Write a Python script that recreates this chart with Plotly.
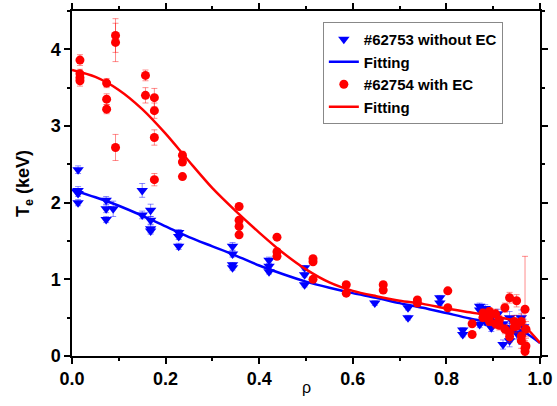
import plotly.graph_objects as go

# ---- data: #62753 without EC (blue) ----
blue_x = [0.013, 0.013, 0.013, 0.013, 0.073, 0.073, 0.073, 0.088, 0.150, 0.150,
          0.168, 0.168, 0.168, 0.168, 0.228, 0.228, 0.228, 0.343, 0.343, 0.343, 0.343,
          0.421, 0.421, 0.421, 0.497, 0.497, 0.497, 0.647, 0.718, 0.718, 0.786, 0.786,
          0.835, 0.835, 0.871, 0.871, 0.871, 0.883, 0.883, 0.896, 0.896, 0.91, 0.91,
          0.921, 0.921, 0.935, 0.935, 0.935, 0.95, 0.95, 0.96, 0.96, 0.965]
blue_y = [2.43, 2.16, 2.12, 2.00, 2.03, 1.92, 1.78, 1.92, 2.16, 1.84,
          1.90, 1.77, 1.66, 1.63, 1.61, 1.56, 1.43, 1.43, 1.33, 1.19, 1.15,
          1.25, 1.17, 1.10, 1.15, 1.06, 0.93, 0.69, 0.63, 0.50, 0.76, 0.69,
          0.34, 0.28, 0.65, 0.60, 0.41, 0.62, 0.45, 0.37, 0.50, 0.45, 0.55,
          0.15, 0.42, 0.50, 0.35, 0.20, 0.45, 0.30, 0.25, 0.50, 0.38]
blue_err = [0.05, 0.05, 0.04, 0.04, 0.05, 0.05, 0.04, 0.10, 0.09, 0.05,
            0.08, 0.05, 0.05, 0.04, 0.04, 0.04, 0.04, 0.05, 0.04, 0.03, 0.03,
            0.04, 0.03, 0.03, 0.03, 0.03, 0.03, 0.03, 0.03, 0.03, 0.03, 0.03,
            0.03, 0.03, 0.04, 0.04, 0.04, 0.05, 0.05, 0.05, 0.05, 0.06, 0.06,
            0.06, 0.06, 0.08, 0.08, 0.08, 0.08, 0.08, 0.10, 0.10, 0.10]

# ---- data: #62754 with EC (red) ----
red_x = [0.017, 0.017, 0.017, 0.017, 0.074, 0.074, 0.074, 0.093, 0.093, 0.093,
         0.157, 0.157, 0.176, 0.176, 0.176, 0.176, 0.236, 0.236, 0.236,
         0.357, 0.357, 0.357, 0.357, 0.438, 0.438, 0.438, 0.515, 0.515, 0.515,
         0.586, 0.586, 0.665, 0.665, 0.738, 0.738, 0.803, 0.803, 0.855, 0.855,
         0.878, 0.878, 0.892, 0.892, 0.892, 0.905, 0.905, 0.913, 0.913, 0.925, 0.925,
         0.935, 0.935, 0.935, 0.945, 0.945, 0.95, 0.95, 0.96, 0.96, 0.96,
         0.968, 0.968, 0.968, 0.97, 0.97]
red_y = [3.86, 3.68, 3.63, 3.59, 3.56, 3.35, 3.22, 4.18, 4.09, 2.72,
         3.66, 3.40, 3.37, 3.20, 2.85, 2.30, 2.62, 2.53, 2.34,
         1.95, 1.77, 1.69, 1.58, 1.55, 1.36, 1.30, 1.27, 1.23, 1.00,
         0.93, 0.82, 0.93, 0.86, 0.73, 0.69, 0.85, 0.63, 0.42, 0.28,
         0.56, 0.50, 0.58, 0.52, 0.45, 0.55, 0.42, 0.47, 0.40, 0.63, 0.35,
         0.76, 0.30, 0.25, 0.45, 0.38, 0.72, 0.39, 0.26, 0.45, 0.20,
         0.61, 0.10, 0.06, 0.13, 0.35]
red_err = [0.07, 0.06, 0.06, 0.07, 0.06, 0.07, 0.06, 0.22, 0.25, 0.17,
           0.07, 0.10, 0.12, 0.10, 0.10, 0.08, 0.05, 0.04, 0.03,
           0.03, 0.03, 0.03, 0.03, 0.03, 0.03, 0.03, 0.03, 0.03, 0.03,
           0.03, 0.03, 0.03, 0.03, 0.03, 0.03, 0.03, 0.03, 0.03, 0.03,
           0.05, 0.05, 0.05, 0.05, 0.05, 0.06, 0.06, 0.06, 0.06, 0.06, 0.06,
           0.07, 0.07, 0.07, 0.08, 0.08, 0.08, 0.08, 0.10, 0.10, 0.10,
           0.69, 0.10, 0.10, 0.10, 0.10]

# ---- fitted profiles ----
fit_x = [0, 0.05, 0.1, 0.15, 0.2, 0.25, 0.3, 0.35, 0.4, 0.45, 0.5, 0.55,
         0.6, 0.65, 0.7, 0.75, 0.8, 0.85, 0.9, 0.95, 0.97, 1.0]
blue_fit = [2.17, 2.07, 1.96, 1.83, 1.69, 1.55, 1.43, 1.31, 1.18, 1.07, 0.97, 0.89,
            0.82, 0.76, 0.69, 0.63, 0.56, 0.49, 0.43, 0.36, 0.30, 0.17]
red_fit = [3.73, 3.64, 3.47, 3.22, 2.90, 2.54, 2.19, 1.89, 1.61, 1.35, 1.13, 0.96,
           0.85, 0.78, 0.72, 0.68, 0.62, 0.57, 0.52, 0.45, 0.37, 0.17]

BLUE = "#0000ff"
RED = "#ff0000"
FONT = "Liberation Sans, Arial"

fig = go.Figure()
fig.add_trace(go.Scatter(
    x=blue_x, y=blue_y, mode="markers", name="#62753 without EC",
    marker=dict(symbol="triangle-down", size=10, color=BLUE),
    error_y=dict(type="data", array=blue_err, color="rgba(0,0,255,0.45)", thickness=1, width=3),
))
fig.add_trace(go.Scatter(
    x=fit_x, y=blue_fit, mode="lines", name="Fitting",
    line=dict(color=BLUE, width=2.5, shape="spline", smoothing=0.8),
))
fig.add_trace(go.Scatter(
    x=red_x, y=red_y, mode="markers", name="#62754 with EC",
    marker=dict(symbol="circle", size=9, color=RED),
    error_y=dict(type="data", array=red_err, color="rgba(255,0,0,0.45)", thickness=1, width=3),
))
fig.add_trace(go.Scatter(
    x=fit_x, y=red_fit, mode="lines", name="Fitting",
    line=dict(color=RED, width=2.5, shape="spline", smoothing=0.8),
))

axis_common = dict(
    showline=True, linecolor="black", linewidth=1.5, mirror="allticks",
    ticks="outside", ticklen=6, tickwidth=1.5, tickcolor="black",
    showgrid=False, zeroline=False, automargin=False,
    tickfont=dict(family=FONT, size=18, color="black", weight="bold"),
)

fig.update_layout(
    width=557, height=406,
    margin=dict(l=72, r=17, t=11, b=50, autoexpand=False),
    paper_bgcolor="white", plot_bgcolor="white",
    font=dict(family=FONT, color="black"),
    showlegend=True,
    legend=dict(
        x=0.536, y=0.968, xanchor="left", yanchor="top",
        bgcolor="white", bordercolor="#888888", borderwidth=1,
        font=dict(family=FONT, size=15, weight="bold", color="black"),
        tracegroupgap=0, itemwidth=30,
    ),
    xaxis=dict(
        range=[0, 1.0], tickvals=[0, 0.2, 0.4, 0.6, 0.8, 1.0],
        ticktext=["0.0", "0.2", "0.4", "0.6", "0.8", "1.0"],
        minor=dict(ticks="outside", ticklen=3, tickwidth=1.5, tickcolor="black", dtick=0.1),
        **axis_common,
    ),
    yaxis=dict(
        range=[0, 4.5], tickvals=[0, 1, 2, 3, 4],
        minor=dict(ticks="outside", ticklen=3, tickwidth=1.5, tickcolor="black", dtick=0.5),
        title=dict(text="T<sub>e</sub> (keV)", font=dict(family=FONT, size=18, color="black", weight="bold"), standoff=16),
        **axis_common,
    ),
    annotations=[dict(
        text="ρ", xref="paper", yref="paper", x=0.5, y=-0.092,
        xanchor="center", yanchor="middle", showarrow=False,
        font=dict(family=FONT, size=16, color="black"),
    )],
)

fig.write_html("out.html")
